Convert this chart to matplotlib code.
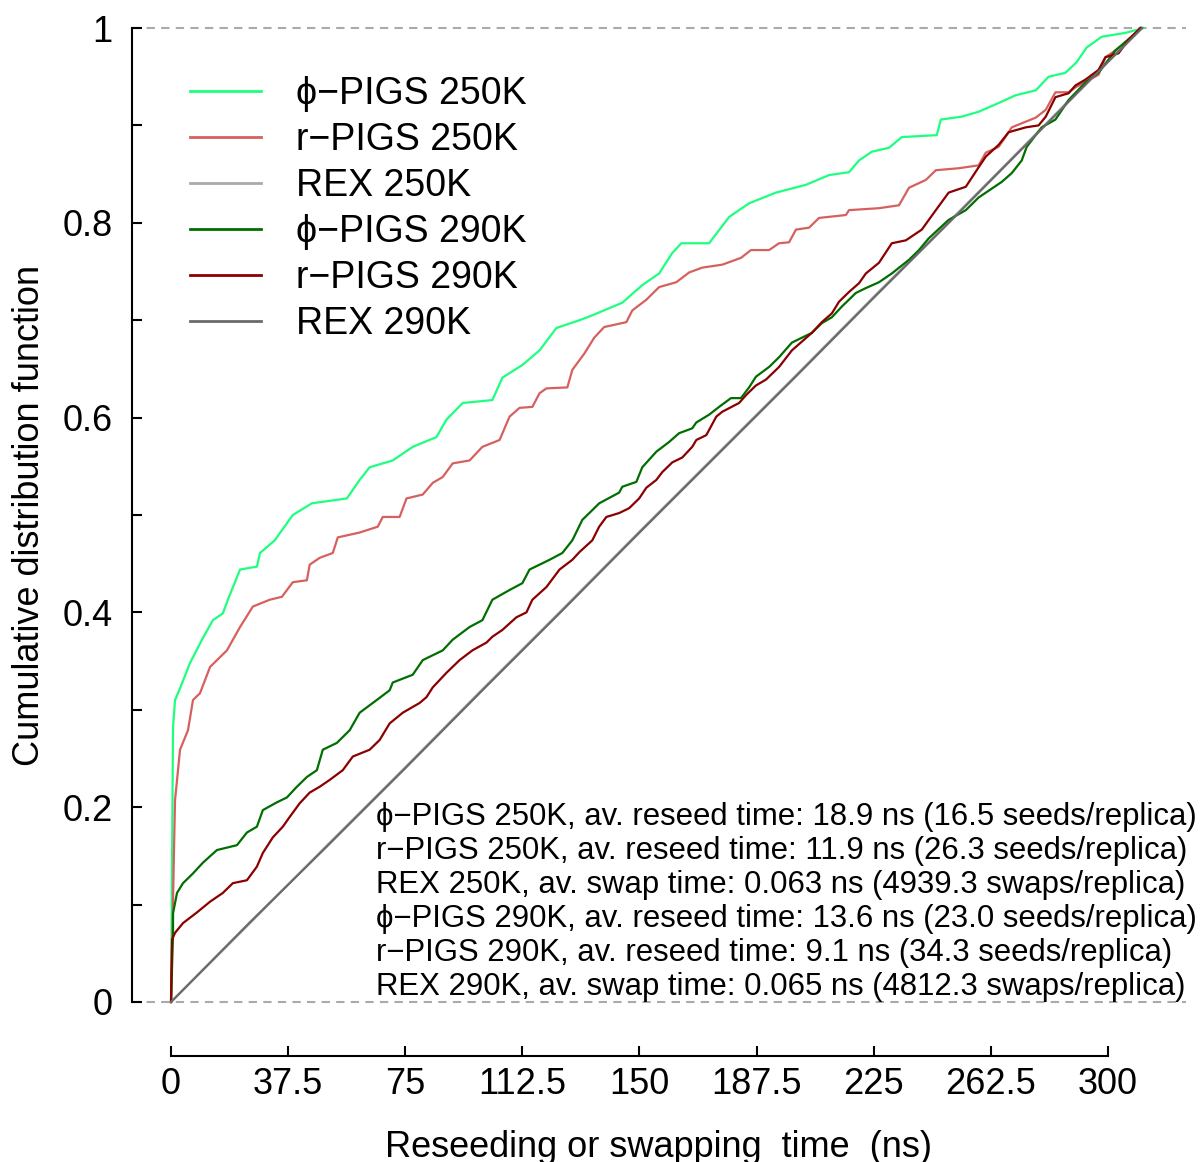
import matplotlib
matplotlib.use("Agg")
import matplotlib.pyplot as plt
from matplotlib.ticker import MultipleLocator

plt.rcParams["font.family"] = ["Liberation Sans", "DejaVu Sans"]

phi_250_t = [0, 0.64, 1.28, 2.88, 6.07, 9.91, 13.4, 16.6, 18.2, 22.1, 27.5, 28.5, 33.2, 39.0,
             45.1, 56.3, 60.4, 63.6, 71.0, 77.4, 85.0, 88.2, 93.4, 102.9, 106.1, 112.5, 118.0,
             123.4, 130.8, 134.9, 144.5, 150.9, 156.3, 160.5, 163.4, 172.3, 178.7, 185.1,
             193.7, 203.3, 210.7, 217.1, 220.3, 224.4, 229.9, 234.0, 245.2, 246.5, 253.2,
             258.6, 265.0, 270.5, 276.9, 281.0, 286.4, 290.0, 293.2, 298.0, 305.6, 311.4]
phi_250_cdf = [0, 0.282, 0.310, 0.322, 0.348, 0.372, 0.392, 0.399, 0.413, 0.444, 0.447, 0.461,
               0.474, 0.500, 0.512, 0.517, 0.536, 0.549, 0.556, 0.570, 0.580, 0.598, 0.615,
               0.618, 0.641, 0.654, 0.669, 0.692, 0.700, 0.705, 0.718, 0.736, 0.748, 0.769,
               0.779, 0.779, 0.806, 0.820, 0.831, 0.839, 0.849, 0.852, 0.864, 0.873, 0.877,
               0.888, 0.890, 0.906, 0.909, 0.914, 0.923, 0.931, 0.936, 0.950, 0.954, 0.965,
               0.980, 0.991, 0.995, 1.0]

r_250_t = [0, 0.32, 0.64, 1.28, 2.88, 5.43, 7.03, 9.27, 12.5, 17.9, 22.1, 26.2, 31.6, 35.5,
           39.0, 43.5, 44.4, 47.6, 51.8, 53.4, 60.4, 66.2, 67.8, 73.2, 75.4, 80.6, 83.8, 87.0,
           90.2, 95.6, 99.7, 105.2, 108.4, 111.6, 115.7, 118.0, 120.2, 126.9, 128.5, 132.4,
           135.5, 138.7, 145.8, 147.7, 152.2, 156.3, 161.8, 165.9, 170.1, 176.5, 182.5, 185.7,
           191.5, 194.7, 197.9, 200.1, 204.3, 207.5, 216.1, 217.1, 226.7, 233.1, 236.3, 241.7,
           244.9, 252.2, 258.6, 260.9, 265.0, 267.6, 269.2, 276.9, 280.1, 283.2, 287.4, 289.6,
           297.0, 299.2, 302.4, 305.6, 308.8, 310.4]
r_250_cdf = [0, 0.053, 0.105, 0.207, 0.259, 0.279, 0.310, 0.317, 0.344, 0.361, 0.385, 0.406,
             0.413, 0.416, 0.431, 0.433, 0.449, 0.456, 0.461, 0.477, 0.482, 0.488, 0.498, 0.498,
             0.517, 0.521, 0.533, 0.539, 0.553, 0.556, 0.570, 0.577, 0.601, 0.610, 0.611,
             0.625, 0.630, 0.631, 0.649, 0.666, 0.682, 0.693, 0.698, 0.710, 0.721, 0.734,
             0.739, 0.749, 0.754, 0.757, 0.764, 0.772, 0.772, 0.779, 0.780, 0.793, 0.795,
             0.805, 0.808, 0.813, 0.815, 0.818, 0.836, 0.844, 0.854, 0.856, 0.859, 0.872,
             0.878, 0.890, 0.898, 0.908, 0.916, 0.934, 0.934, 0.939, 0.952, 0.970, 0.977,
             0.983, 0.995, 1.0]

rex_250_t = [0, 25, 50, 75, 100, 125, 150, 175, 200, 225, 250, 275, 300, 310.5]
rex_250_cdf = [0, 0.080, 0.161, 0.241, 0.322, 0.402, 0.483, 0.563, 0.643, 0.724, 0.804,
               0.885, 0.966, 1.0]

phi_290_t = [0, 0.64, 0.64, 1.92, 3.84, 7.03, 10.2, 14.7, 21.1, 24.3, 27.5, 29.4, 33.9, 37.1,
             40.3, 43.5, 46.7, 48.6, 53.1, 57.2, 60.4, 64.6, 70.0, 71.0, 77.4, 80.6, 87.0,
             90.2, 95.6, 99.7, 102.9, 108.4, 112.5, 114.8, 121.2, 125.3, 128.5, 131.7, 134.9,
             137.1, 143.5, 144.5, 149.0, 150.9, 155.4, 159.5, 162.7, 166.9, 168.2, 172.3,
             175.5, 179.3, 182.5, 185.1, 187.3, 191.5, 194.7, 198.8, 205.2, 208.4, 211.6,
             214.8, 219.3, 222.5, 226.7, 230.8, 236.3, 239.5, 242.6, 249.0, 254.5, 258.6,
             266.0, 269.2, 272.4, 274.0, 278.8, 283.2, 287.4, 292.8, 297.0, 302.4, 307.5, 310.7]
phi_290_cdf = [0, 0.071, 0.091, 0.112, 0.122, 0.132, 0.143, 0.156, 0.161, 0.174, 0.180, 0.197,
               0.205, 0.210, 0.221, 0.231, 0.238, 0.259, 0.266, 0.279, 0.297, 0.307, 0.320,
               0.328, 0.336, 0.351, 0.361, 0.372, 0.385, 0.392, 0.413, 0.423, 0.430, 0.444,
               0.454, 0.461, 0.474, 0.495, 0.505, 0.512, 0.523, 0.529, 0.534, 0.549, 0.565,
               0.575, 0.584, 0.589, 0.595, 0.603, 0.611, 0.620, 0.620, 0.631, 0.642, 0.652,
               0.662, 0.677, 0.687, 0.697, 0.703, 0.714, 0.728, 0.733, 0.739, 0.748, 0.762,
               0.772, 0.784, 0.803, 0.813, 0.826, 0.842, 0.851, 0.864, 0.878, 0.898, 0.906,
               0.926, 0.944, 0.954, 0.977, 0.991, 1.0]

r_290_t = [0, 0.32, 1.28, 3.84, 8.31, 12.5, 16.6, 19.8, 24.3, 27.5, 29.4, 32.6, 35.8, 38.0,
           41.2, 44.4, 47.6, 50.8, 55.0, 58.2, 63.6, 66.8, 70.0, 74.2, 79.6, 81.8, 83.8, 88.2,
           92.4, 96.5, 101.0, 102.9, 106.1, 110.6, 113.8, 115.7, 120.2, 124.4, 128.5, 130.8,
           134.9, 137.1, 139.4, 143.5, 146.7, 149.9, 152.2, 155.4, 157.3, 160.5, 163.7, 166.9,
           168.2, 171.4, 174.6, 176.5, 181.9, 184.1, 187.3, 190.5, 194.7, 198.8, 205.2, 208.4,
           211.6, 213.9, 217.1, 220.3, 222.5, 226.7, 230.8, 235.3, 240.4, 244.9, 249.0, 254.5,
           258.6, 260.9, 265.0, 268.2, 273.7, 277.8, 280.1, 283.2, 287.4, 289.6, 292.8, 297.0,
           299.2, 303.4, 306.6, 309.8, 310.4]
r_290_cdf = [0, 0.064, 0.071, 0.081, 0.092, 0.103, 0.112, 0.122, 0.125, 0.139, 0.153, 0.169,
             0.180, 0.190, 0.204, 0.215, 0.221, 0.228, 0.238, 0.252, 0.259, 0.269, 0.286,
             0.297, 0.307, 0.313, 0.323, 0.338, 0.351, 0.361, 0.369, 0.375, 0.382, 0.395,
             0.400, 0.413, 0.426, 0.444, 0.454, 0.462, 0.474, 0.488, 0.498, 0.502, 0.507,
             0.517, 0.528, 0.536, 0.544, 0.554, 0.559, 0.570, 0.577, 0.582, 0.601, 0.606,
             0.615, 0.623, 0.633, 0.639, 0.652, 0.669, 0.687, 0.698, 0.707, 0.719, 0.729,
             0.738, 0.748, 0.759, 0.779, 0.782, 0.793, 0.813, 0.831, 0.837, 0.857, 0.868,
             0.880, 0.893, 0.898, 0.900, 0.909, 0.929, 0.933, 0.941, 0.947, 0.957, 0.970,
             0.974, 0.988, 0.998, 1.0]

rex_290_t = [0, 25, 50, 75, 100, 125, 150, 175, 200, 225, 250, 275, 300, 311.0]
rex_290_cdf = [0, 0.081, 0.160, 0.240, 0.321, 0.401, 0.482, 0.562, 0.642, 0.723, 0.803,
               0.884, 0.965, 1.0]

labels = ["\u03d5\u2212PIGS 250K", "r\u2212PIGS 250K", "REX 250K",
          "\u03d5\u2212PIGS 290K", "r\u2212PIGS 290K", "REX 290K"]
colors = ["#1eff80", "#d6605e", "#aaaaaa", "#006e00", "#8b0000", "#6a6a6a"]

summary = [
    "\u03d5\u2212PIGS 250K, av. reseed time: 18.9 ns (16.5 seeds/replica)",
    "r\u2212PIGS 250K, av. reseed time: 11.9 ns (26.3 seeds/replica)",
    "REX 250K, av. swap time: 0.063 ns (4939.3 swaps/replica)",
    "\u03d5\u2212PIGS 290K, av. reseed time: 13.6 ns (23.0 seeds/replica)",
    "r\u2212PIGS 290K, av. reseed time: 9.1 ns (34.3 seeds/replica)",
    "REX 290K, av. swap time: 0.065 ns (4812.3 swaps/replica)",
]

x_ticks = [0, 37.5, 75, 112.5, 150, 187.5, 225, 262.5, 300]
x_ticklabels = ["0", "37.5", "75", "112.5", "150", "187.5", "225", "262.5", "300"]
y_ticks = [0, 0.2, 0.4, 0.6, 0.8, 1.0]
y_ticklabels = ["0", "0.2", "0.4", "0.6", "0.8", "1"]

fig = plt.figure(figsize=(12.01, 11.62), dpi=100)
ax = fig.add_axes([0.1099, 0.1377, 0.8776, 0.8382])

# dashed guides at 0 and 1
for yv in (0, 1):
    ax.axhline(yv, color="#aaaaaa", lw=1.5, ls=(0, (4, 3)), clip_on=False, zorder=1)

series = [(phi_250_t, phi_250_cdf), (r_250_t, r_250_cdf), (rex_250_t, rex_250_cdf),
          (phi_290_t, phi_290_cdf), (r_290_t, r_290_cdf), (rex_290_t, rex_290_cdf)]
for (t, c), lab, col in zip(series, labels, colors):
    ax.plot(t, c, color=col, lw=1.6, label=lab, clip_on=False, zorder=3)

ax.set_xlim(-12.5, 325)
ax.set_ylim(0, 1)

for s in ("top", "right"):
    ax.spines[s].set_visible(False)
ax.spines["left"].set_bounds(0, 1)
ax.spines["left"].set_linewidth(1.5)
ax.spines["bottom"].set_position(("outward", 39))
ax.spines["bottom"].set_bounds(0, 300)
ax.spines["bottom"].set_linewidth(1.5)

ax.set_xticks(x_ticks)
ax.set_xticklabels(x_ticklabels)
ax.set_yticks(y_ticks)
ax.set_yticklabels(y_ticklabels)
ax.yaxis.set_minor_locator(MultipleLocator(0.1))
ax.tick_params(axis="both", which="both", direction="in", length=7.5, width=1.5,
               labelsize=26)
ax.tick_params(axis="x", pad=8)
ax.tick_params(axis="y", pad=14)

ax.set_xlabel("Reseeding or swapping  time  (ns)", fontsize=26, labelpad=20)
ax.set_ylabel("Cumulative distribution function", fontsize=26, labelpad=11)

leg = ax.legend(loc="upper left", bbox_to_anchor=(0.055, 0.951), frameon=False,
                fontsize=27, handlelength=1.89, handletextpad=0.93, labelspacing=0.27,
                borderpad=0, borderaxespad=0)
for ln in leg.get_lines():
    ln.set_linewidth(2)

for i, line in enumerate(summary):
    ax.text(0.2315, 0.190 - i * 0.0349, line, transform=ax.transAxes, fontsize=22.4,
            ha="left", va="center")

fig.savefig("out.png", dpi=100)
